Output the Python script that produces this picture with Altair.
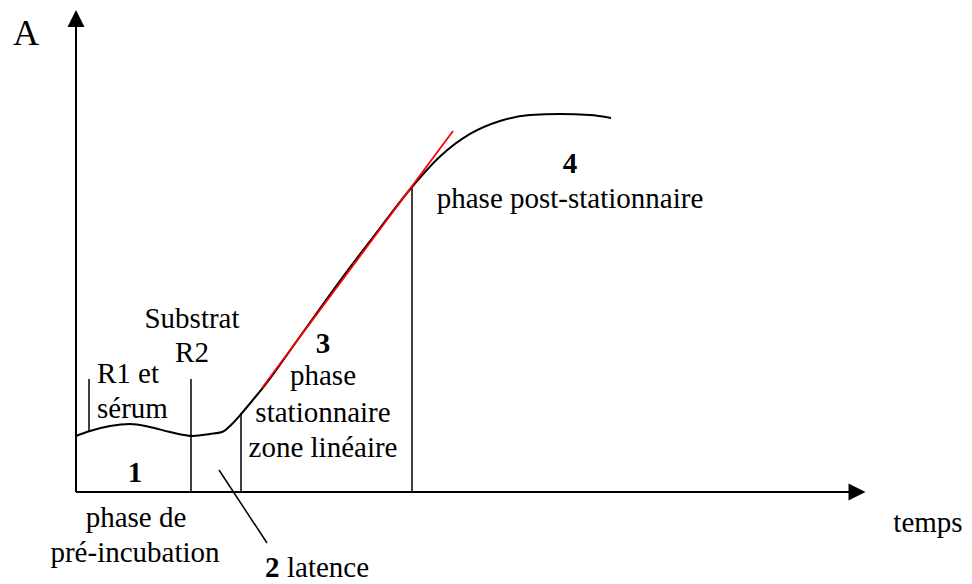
import altair as alt
import pandas as pd

# ---- data (time units / absorbance units) ----
curve_t = [0, 1.75, 4.25, 6.75, 9.25, 11.75, 14.63, 16.75, 18.25, 19.5, 20.75, 22, 23.25,
           28, 33, 38, 42, 45.5, 49.25, 53, 56.75, 60.5, 64.25, 66.875]
curve_a = [11.67, 12.71, 13.75, 14.17, 13.54, 12.5, 11.67, 12.08, 12.5, 14.17, 16.46, 18.96, 21.46,
           32.4, 44.0, 55.0, 63.54, 69.9, 74.6, 77.3, 78.54, 78.75, 78.54, 77.92]

tangent_t = [23.25, 47.125]
tangent_a = [21.67, 75.21]

# marker lines: R1, R2, end of latency, end of linear zone, pointer to "latence"
seg_t = [1.625, 14.375, 20.625, 42, 17.875]
seg_a = [23.54, 23.54, 16.46, 63.54, 4.58]
seg_t2 = [1.625, 14.375, 20.625, 42, 23.875]
seg_a2 = [12.71, 0, 0, 0, -10.625]

# axes
axis_t = [0, 0]
axis_a = [0, 0]
axis_t2 = [0, 96.75]
axis_a2 = [96.875, 0]

# labels
lab_center_text = ["Substrat", "R2", "phase de", "pré-incubation", "phase", "stationnaire",
                   "zone linéaire", "phase post-stationnaire", "temps"]
lab_center_t = [14.5, 14.5, 7.5, 7.375, 30.875, 30.875, 30.875, 61.75, 106.5]
lab_center_a = [34.17, 27.08, -7.29, -14.58, 22.29, 14.58, 7.29, 59.17, -8.33]

lab_bold_text = ["1", "3", "4"]
lab_bold_t = [7.375, 30.875, 61.75]
lab_bold_a = [2.08, 28.96, 66.46]

lab_left_text = ["R1 et", "sérum", "latence"]
lab_left_t = [2.625, 2.625, 26.375]
lab_left_a = [22.71, 15.42, -17.71]

lab_leftbold_text = ["2"]
lab_leftbold_t = [23.625]
lab_leftbold_a = [-17.71]

yaxis_label = ["A"]
yaxis_label_t = [-6.25]
yaxis_label_a = [93.125]

# ---- scales ----
XS = alt.Scale(domain=[-8.5, 111], nice=False, zero=False)
YS = alt.Scale(domain=[-18.75, 100.833], nice=False, zero=False)
FONT = "Liberation Serif"


def X(f="t"):
    return alt.X(f"{f}:Q", scale=XS, axis=None)


def Y(f="a"):
    return alt.Y(f"{f}:Q", scale=YS, axis=None)


curve_df = pd.DataFrame({"t": curve_t, "a": curve_a, "o": range(len(curve_t))})
curve = alt.Chart(curve_df).mark_line(color="black", strokeWidth=2, interpolate="monotone").encode(
    x=X(), y=Y(), order="o:Q")

tan_df = pd.DataFrame({"t": tangent_t, "a": tangent_a})
tangent = alt.Chart(tan_df).mark_line(color="#ff0000", strokeWidth=1.8).encode(x=X(), y=Y())

seg_df = pd.DataFrame({"t": seg_t, "a": seg_a, "t2": seg_t2, "a2": seg_a2})
segs = alt.Chart(seg_df).mark_rule(color="black", strokeWidth=1.5).encode(
    x=X(), y=Y(), x2="t2:Q", y2="a2:Q")

ax_df = pd.DataFrame({"t": axis_t, "a": axis_a, "t2": axis_t2, "a2": axis_a2})
axes = alt.Chart(ax_df).mark_rule(color="black", strokeWidth=2).encode(
    x=X(), y=Y(), x2="t2:Q", y2="a2:Q")

up_df = pd.DataFrame({"t": [0], "a": [98.65]})
arrow_up = alt.Chart(up_df).mark_point(
    shape="M0,-1L1,1L-1,1Z", filled=True, size=289, color="black", opacity=1, strokeWidth=0
).encode(x=X(), y=Y())

right_df = pd.DataFrame({"t": [97.625], "a": [0]})
arrow_right = alt.Chart(right_df).mark_point(
    shape="M1,0L-1,-1L-1,1Z", filled=True, size=289, color="black", opacity=1, strokeWidth=0
).encode(x=X(), y=Y())


def texts(txt, t, a, align, weight, size):
    df = pd.DataFrame({"label": txt, "t": t, "a": a})
    mark_kwargs = dict(align=align, baseline="alphabetic", font=FONT, fontSize=size, color="black")
    if weight == "bold":
        mark_kwargs["fontWeight"] = "bold"
    return alt.Chart(df).mark_text(**mark_kwargs).encode(x=X(), y=Y(), text="label:N")


t_center = texts(lab_center_text, lab_center_t, lab_center_a, "center", "normal", 29)
t_bold = texts(lab_bold_text, lab_bold_t, lab_bold_a, "center", "bold", 29)
t_left = texts(lab_left_text, lab_left_t, lab_left_a, "left", "normal", 29)
t_leftbold = texts(lab_leftbold_text, lab_leftbold_t, lab_leftbold_a, "left", "bold", 29)
t_A = texts(yaxis_label, yaxis_label_t, yaxis_label_a, "center", "normal", 36)

chart = alt.layer(
    axes, arrow_up, arrow_right, segs, curve, tangent,
    t_center, t_bold, t_left, t_leftbold, t_A
).properties(
    width=956, height=574, autosize=alt.AutoSizeParams(type="none"), padding=0
).configure_view(stroke=None).configure_text(font=FONT)

chart.save("out.html", embed_options={"renderer": "svg", "actions": False})
